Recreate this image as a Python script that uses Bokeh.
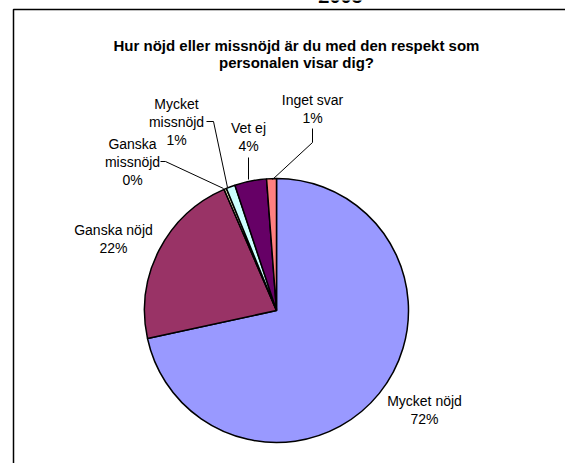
import math
from bokeh.plotting import figure
from bokeh.models import Range1d, ColumnDataSource
from bokeh.core.properties import value
from bokeh.embed import file_html
from bokeh.resources import INLINE

# ---- data ----
categories = ["Mycket nöjd", "Ganska nöjd", "Ganska missnöjd", "Mycket missnöjd", "Vet ej", "Inget svar"]
values = [71.6, 21.9, 0.3, 1.1, 3.9, 1.2]
colors = ["#9999FF", "#993366", "#FFFFCC", "#CCFFFF", "#660066", "#FF8080"]
year_label = "2005"
title_lines = ["Hur nöjd eller missnöjd är du med den respekt som", "personalen visar dig?"]
wrapped = {"Ganska missnöjd": ["Ganska", "missnöjd"], "Mycket missnöjd": ["Mycket", "missnöjd"]}

# ---- layout (pixel-like coordinates inside the figure) ----
W, H = 565, 463
def px(X, Y):
    return X, H - Y

cx, cy = px(276, 310)
R = 132
label_anchor = {  # center x, y of first line (image coords)
    "Mycket nöjd": (424, 400),
    "Ganska nöjd": (113, 229),
    "Ganska missnöjd": (132, 143),
    "Mycket missnöjd": (176, 103),
    "Vet ej": (248, 127),
    "Inget svar": (312, 99),
}
leaders = {
    "Ganska missnöjd": [(160, 161), (165, 161), (223, 188)],
    "Mycket missnöjd": [(206, 121), (213, 121), (227, 187)],
    "Vet ej": [(248, 157), (248, 179)],
    "Inget svar": [(312, 128), (312, 142), (272, 179)],
}
LINE_H = 18

p = figure(width=W, height=H, output_backend="svg", toolbar_location=None,
           x_range=Range1d(0, W), y_range=Range1d(0, H),
           x_axis_type=None, y_axis_type=None, min_border=0)
p.outline_line_color = None
p.grid.visible = False
p.background_fill_color = "white"
p.border_fill_color = "white"

# frame
fx, fy = px(13, 9)
p.line([fx, fx, W + 20], [-20, fy, fy], line_color="black", line_width=1.5)

# pie
total = sum(values)
starts, ends = [], []
cum = 0.0
for v in values:
    starts.append(math.pi / 2 - 2 * math.pi * cum / total)
    cum += v
    ends.append(math.pi / 2 - 2 * math.pi * cum / total)
src = ColumnDataSource(dict(x=[cx] * len(values), y=[cy] * len(values),
                            start=starts, end=ends, color=colors))
p.wedge(x="x", y="y", radius=R, start_angle="start", end_angle="end",
        direction="clock", fill_color="color", line_color="black", line_width=1.5, source=src)

# leader lines
for name, pts in leaders.items():
    xs = [px(X, Y)[0] for X, Y in pts]
    ys = [px(X, Y)[1] for X, Y in pts]
    p.line(xs, ys, line_color="black", line_width=1)

# labels
tx, ty, tt = [], [], []
for name, v in zip(categories, values):
    lines = wrapped.get(name, [name]) + [f"{round(v)}%"]
    X, Y = label_anchor[name]
    for i, ln in enumerate(lines):
        x, y = px(X, Y + i * LINE_H)
        tx.append(x); ty.append(y); tt.append(ln)
p.text(x=tx, y=ty, text=tt, text_align="center", text_baseline="middle",
       text_font=value("Liberation Sans"), text_font_size="14px", text_color="black")

# title
ttx, tty = [], []
for i, ln in enumerate(title_lines):
    x, y = px(296, 45 + i * 17)
    ttx.append(x); tty.append(y)
p.text(x=ttx, y=tty, text=title_lines, text_align="center", text_baseline="middle",
       text_font=value("Liberation Sans"), text_font_size="15px", text_font_style="bold",
       text_color="black")

# year heading, mostly cut off at the top as in the original
yx, yy = px(340, 0)
p.text(x=[yx], y=[yy], text=[year_label], text_align="center", text_baseline="alphabetic",
       y_offset=-5, text_font=value("Liberation Sans"), text_font_size="20px",
       text_font_style="bold", text_color="black")

open("out.html", "w").write(file_html(p, INLINE))
